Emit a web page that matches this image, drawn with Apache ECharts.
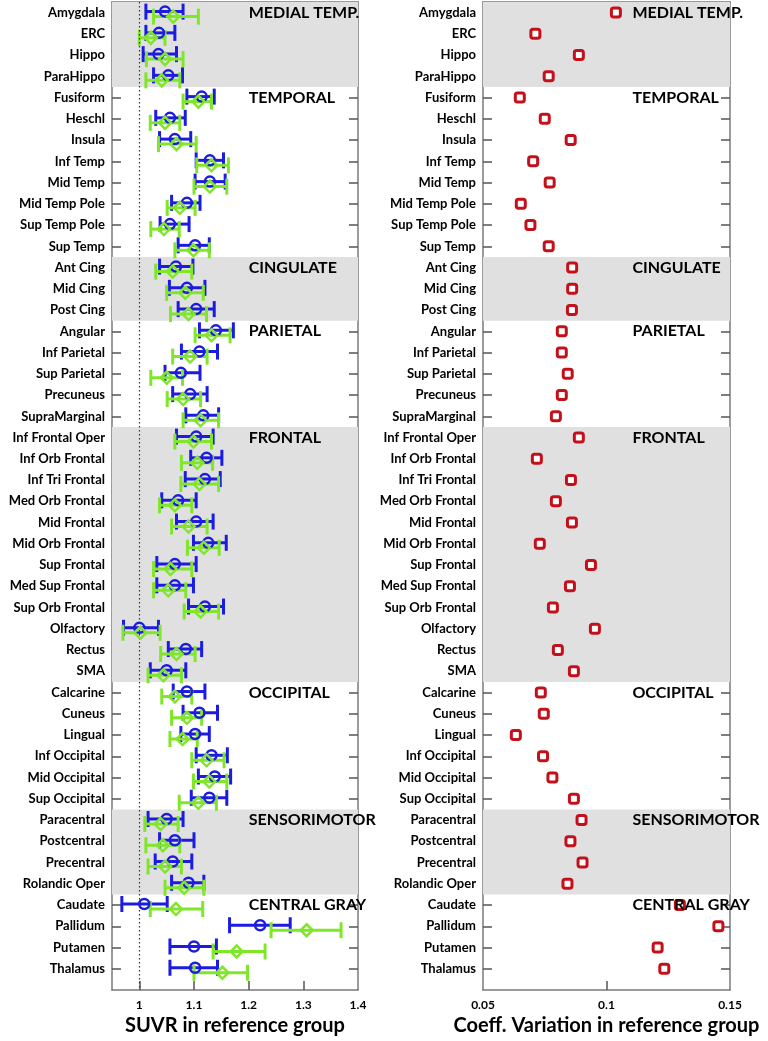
<!DOCTYPE html>
<html>
<head>
<meta charset="utf-8">
<script src="https://cdn.jsdelivr.net/npm/echarts@6/dist/echarts.min.js"></script>
<style>
html,body{margin:0;padding:0;background:#fff;}
#c{width:768px;height:1041px;}
</style>
</head>
<body>
<div id="c"></div>
<script>
const categories = ["Amygdala","ERC","Hippo","ParaHippo","Fusiform","Heschl","Insula","Inf Temp","Mid Temp","Mid Temp Pole","Sup Temp Pole","Sup Temp","Ant Cing","Mid Cing","Post Cing","Angular","Inf Parietal","Sup Parietal","Precuneus","SupraMarginal","Inf Frontal Oper","Inf Orb Frontal","Inf Tri Frontal","Med Orb Frontal","Mid Frontal","Mid Orb Frontal","Sup Frontal","Med Sup Frontal","Sup Orb Frontal","Olfactory","Rectus","SMA","Calcarine","Cuneus","Lingual","Inf Occipital","Mid Occipital","Sup Occipital","Paracentral","Postcentral","Precentral","Rolandic Oper","Caudate","Pallidum","Putamen","Thalamus"];

const blueMean = [1.047,1.036,1.035,1.053,1.114,1.056,1.065,1.129,1.129,1.087,1.056,1.102,1.067,1.087,1.104,1.140,1.110,1.076,1.093,1.117,1.104,1.123,1.120,1.071,1.104,1.126,1.065,1.065,1.120,1.000,1.085,1.050,1.087,1.110,1.102,1.132,1.138,1.128,1.050,1.065,1.061,1.090,1.009,1.221,1.100,1.102];
const blueLow  = [1.012,1.012,1.007,1.026,1.087,1.030,1.037,1.104,1.102,1.059,1.038,1.071,1.037,1.055,1.071,1.110,1.077,1.047,1.061,1.085,1.068,1.094,1.084,1.041,1.068,1.099,1.032,1.032,1.090,0.971,1.053,1.020,1.062,1.080,1.076,1.104,1.108,1.095,1.016,1.037,1.029,1.059,0.968,1.165,1.056,1.056];
const blueHigh = [1.080,1.065,1.068,1.079,1.137,1.084,1.094,1.154,1.157,1.111,1.091,1.128,1.098,1.120,1.137,1.172,1.143,1.111,1.124,1.145,1.135,1.151,1.148,1.104,1.135,1.159,1.104,1.099,1.154,1.035,1.114,1.085,1.120,1.143,1.128,1.161,1.167,1.160,1.080,1.100,1.096,1.118,1.051,1.276,1.141,1.143];
const greenMean = [1.062,1.021,1.047,1.041,1.108,1.047,1.068,1.132,1.129,1.074,1.045,1.099,1.061,1.084,1.090,1.132,1.093,1.050,1.080,1.112,1.099,1.106,1.110,1.065,1.090,1.118,1.057,1.053,1.112,1.002,1.068,1.044,1.065,1.087,1.079,1.123,1.128,1.108,1.039,1.043,1.047,1.082,1.067,1.306,1.178,1.152];
const greenLow  = [1.026,1.000,1.013,1.012,1.080,1.020,1.035,1.105,1.100,1.051,1.021,1.065,1.030,1.050,1.057,1.102,1.061,1.021,1.051,1.080,1.065,1.077,1.076,1.037,1.059,1.088,1.026,1.026,1.082,0.970,1.039,1.016,1.041,1.059,1.056,1.096,1.099,1.073,1.010,1.012,1.016,1.047,1.020,1.241,1.135,1.100];
const greenHigh = [1.108,1.047,1.080,1.074,1.132,1.074,1.104,1.163,1.160,1.102,1.073,1.128,1.096,1.117,1.123,1.166,1.124,1.079,1.112,1.145,1.132,1.134,1.145,1.096,1.124,1.146,1.096,1.085,1.145,1.038,1.102,1.077,1.096,1.114,1.106,1.155,1.160,1.141,1.071,1.074,1.077,1.118,1.116,1.369,1.230,1.198];
const covValues = [0.1038,0.0712,0.0888,0.0766,0.0649,0.0750,0.0855,0.0703,0.0770,0.0653,0.0692,0.0766,0.0861,0.0861,0.0860,0.0819,0.0819,0.0843,0.0819,0.0795,0.0888,0.0718,0.0856,0.0795,0.0860,0.0730,0.0937,0.0852,0.0783,0.0953,0.0803,0.0868,0.0734,0.0746,0.0633,0.0743,0.0781,0.0868,0.0899,0.0854,0.0903,0.0842,0.1297,0.1453,0.1207,0.1234];

const groupNames = ["MEDIAL TEMP.","TEMPORAL","CINGULATE","PARIETAL","FRONTAL","OCCIPITAL","SENSORIMOTOR","CENTRAL GRAY"];
const groupStart = [0,4,12,15,20,32,38,42];
const groupEnd   = [3,11,14,19,31,37,41,45];
const groupShaded = [true,false,true,false,true,false,true,false];

const suvrTicks = [1,1.1,1.2,1.3,1.4];
const covTicks = [0.05,0.1,0.15];

const rows = categories.map((_, i) => i);
const FONT = 'Lato';
const BLUE = '#1c1ce0';
const GREEN = '#80e62a';
const RED = '#c4101a';
const FRAME = '#7a7a7a';

const bands = [];
groupShaded.forEach((s, i) => { if (s) bands.push([{yAxis: groupStart[i] - 0.5}, {yAxis: groupEnd[i] + 0.5}]); });

function errBar(color, off) {
  return function (params, api) {
    const r = api.value(0);
    const a = api.coord([api.value(1), r]);
    const b = api.coord([api.value(2), r]);
    const y = a[1] + off;
    const h = 8;
    const st = {stroke: color, lineWidth: 3, fill: null};
    return {type: 'group', children: [
      {type: 'line', shape: {x1: a[0], y1: y, x2: b[0], y2: y}, style: st},
      {type: 'line', shape: {x1: a[0], y1: y - h, x2: a[0], y2: y + h}, style: st},
      {type: 'line', shape: {x1: b[0], y1: y - h, x2: b[0], y2: y + h}, style: st}
    ]};
  };
}

function yAx(gridIndex, pos, showLabel) {
  return {
    type: 'value', gridIndex, position: pos, inverse: true, min: -0.5, max: 46,
    splitLine: {show: false},
    axisLine: {show: true, lineStyle: {color: FRAME, width: 1.5}},
    axisTick: {show: true, inside: true, length: 9, customValues: rows, lineStyle: {color: '#555', width: 1.5}},
    axisLabel: {show: showLabel, customValues: rows, margin: 7, formatter: v => categories[v] || '',
      fontFamily: FONT, fontWeight: 'bold', fontSize: 13, color: '#000'}
  };
}
function xAx(gridIndex, pos, min, max, labels, ticks, name, fmt) {
  return {
    type: 'value', gridIndex, position: pos, min, max,
    splitLine: {show: false},
    axisLine: {show: true, onZero: false, lineStyle: {color: FRAME, width: 1.5}},
    axisTick: {show: true, inside: true, length: 9, customValues: ticks, lineStyle: {color: '#555', width: 1.5}},
    axisLabel: {show: pos === 'bottom', customValues: labels, margin: 9, formatter: fmt,
      fontFamily: FONT, fontWeight: 'bold', fontSize: 12, color: '#000'},
    name: pos === 'bottom' ? name : '', nameLocation: 'middle', nameGap: 26,
    nameTextStyle: {fontFamily: FONT, fontWeight: 'bold', fontSize: 20, color: '#000', verticalAlign: 'top'}
  };
}

const groupLabelStyle = {show: true, position: 'right', distance: 0, fontFamily: FONT, fontWeight: 'bold', fontSize: 16, color: '#000', opacity: 1};

const option = {
  animation: false,
  grid: [
    {left: 112, top: 2, width: 246, height: 991},
    {left: 483, top: 2, width: 247, height: 991}
  ],
  xAxis: [
    xAx(0, 'bottom', 0.95, 1.4, suvrTicks, [1,1.1,1.2,1.3], 'SUVR in reference group', v => String(Math.round(v * 10) / 10)),
    xAx(0, 'top', 0.95, 1.4, suvrTicks, [1,1.1,1.2,1.3], '', null),
    xAx(1, 'bottom', 0.05, 0.15, covTicks, [0.1], 'Coeff. Variation in reference group', v => String(Math.round(v * 100) / 100)),
    xAx(1, 'top', 0.05, 0.15, covTicks, [0.1], '', null)
  ],
  yAxis: [yAx(0, 'left', true), yAx(0, 'right', false), yAx(1, 'left', true), yAx(1, 'right', false)],
  series: [
    {type: 'scatter', xAxisIndex: 0, yAxisIndex: 0, data: [], z: 1,
      markArea: {silent: true, itemStyle: {color: '#e0e0e0', opacity: 1}, data: bands},
      markLine: {silent: true, symbol: 'none', label: {show: false}, lineStyle: {color: '#333', type: [1.5, 2.5], width: 1.2, opacity: 1}, data: [{xAxis: 1}]}},
    {type: 'scatter', xAxisIndex: 2, yAxisIndex: 2, data: [], z: 1,
      markArea: {silent: true, itemStyle: {color: '#e0e0e0', opacity: 1}, data: bands}},
    {type: 'custom', xAxisIndex: 0, yAxisIndex: 0, z: 2, renderItem: errBar(BLUE, -1),
      encode: {x: [1, 2], y: 0}, data: rows.map(i => [i, blueLow[i], blueHigh[i]])},
    {type: 'custom', xAxisIndex: 0, yAxisIndex: 0, z: 3, renderItem: errBar(GREEN, 4),
      encode: {x: [1, 2], y: 0}, data: rows.map(i => [i, greenLow[i], greenHigh[i]])},
    {type: 'scatter', xAxisIndex: 0, yAxisIndex: 0, z: 4, symbol: 'circle', symbolSize: 10, symbolOffset: [0, -1],
      itemStyle: {color: 'rgba(0,0,0,0)', borderColor: BLUE, borderWidth: 2.5, opacity: 1},
      data: rows.map(i => [blueMean[i], i])},
    {type: 'scatter', xAxisIndex: 0, yAxisIndex: 0, z: 5, symbol: 'diamond', symbolSize: 12, symbolOffset: [0, 4],
      itemStyle: {color: 'rgba(0,0,0,0)', borderColor: GREEN, borderWidth: 2.5, opacity: 1},
      data: rows.map(i => [greenMean[i], i])},
    {type: 'scatter', xAxisIndex: 2, yAxisIndex: 2, z: 4, symbol: 'roundRect', symbolSize: 9,
      itemStyle: {color: '#fff', borderColor: RED, borderWidth: 3, opacity: 1},
      data: rows.map(i => [covValues[i], i])},
    {type: 'scatter', xAxisIndex: 0, yAxisIndex: 0, z: 10, symbolSize: 0, silent: true,
      itemStyle: {opacity: 1},
      label: Object.assign({formatter: p => groupNames[p.dataIndex]}, groupLabelStyle),
      data: groupStart.map(r => [1.2, r])},
    {type: 'scatter', xAxisIndex: 2, yAxisIndex: 2, z: 10, symbolSize: 0, silent: true,
      itemStyle: {opacity: 1},
      label: Object.assign({formatter: p => groupNames[p.dataIndex]}, groupLabelStyle),
      data: groupStart.map(r => [0.1105, r])}
  ]
};
const chart = echarts.init(document.getElementById('c'), null, {renderer: 'canvas'});
chart.setOption(option);
</script>
</body>
</html>
